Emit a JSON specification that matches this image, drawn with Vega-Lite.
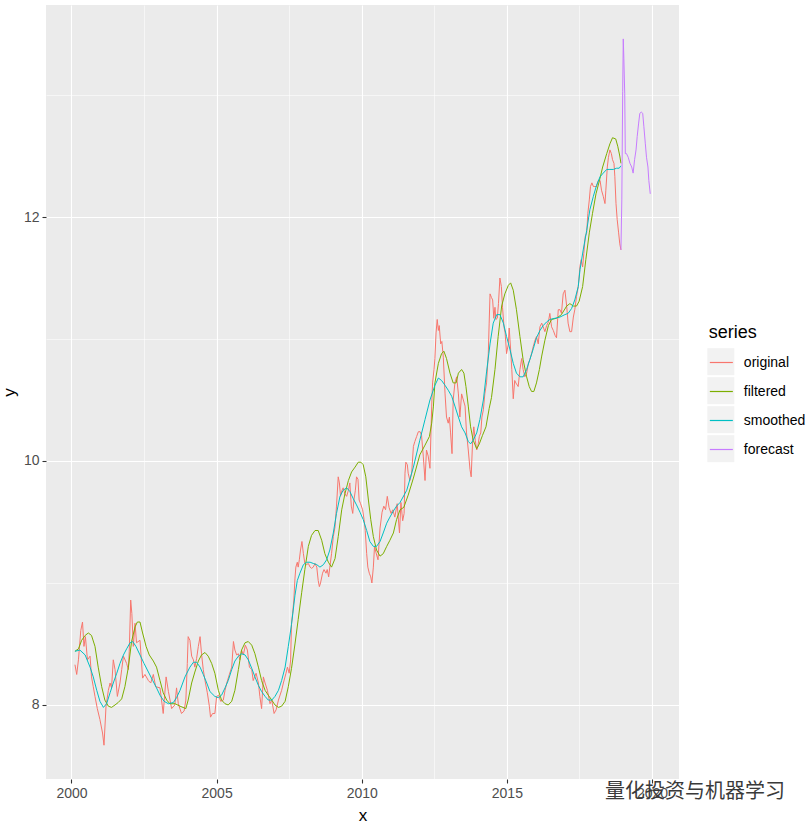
{
"$schema": "https://vega.github.io/schema/vega-lite/v6.json",
"width": 633, "height": 774,
"autosize": {"type": "none"},
"padding": {"left": 46, "top": 5, "right": 133, "bottom": 45},
"background": "white",
"title": {"text": "量化投资与机器学习", "orient": "bottom", "anchor": "end", "frame": "group", "font": "Noto Sans CJK SC", "fontSize": 20, "fontWeight": "normal", "color": "#3A3A3A", "dx": 106, "dy": -41, "offset": 0},
"config": {
  "view": {"fill": "#EBEBEB", "stroke": null},
  "font": "Liberation Sans",
  "axis": {"domain": false, "gridColor": "#FFFFFF", "tickColor": "#333333", "tickWidth": 1.1, "tickSize": 4, "labelColor": "#4D4D4D", "labelFont": "Liberation Sans", "labelFontSize": 14, "labelPadding": 3, "titleFont": "Liberation Sans", "titleFontSize": 17, "titleFontWeight": "normal", "titleColor": "#000000", "labelOverlap": false, "labelFlush": false}
},
"data": {"values": [
{"series":"original","x":2000.12,"y":8.33},{"series":"original","x":2000.18,"y":8.25},{"series":"original","x":2000.24,"y":8.37},{"series":"original","x":2000.32,"y":8.61},{"series":"original","x":2000.38,"y":8.68},{"series":"original","x":2000.43,"y":8.48},{"series":"original","x":2000.48,"y":8.56},{"series":"original","x":2000.55,"y":8.37},{"series":"original","x":2000.64,"y":8.40},{"series":"original","x":2000.69,"y":8.23},{"series":"original","x":2000.75,"y":8.15},{"series":"original","x":2000.81,"y":8.07},{"series":"original","x":2000.89,"y":7.97},{"series":"original","x":2000.98,"y":7.88},{"series":"original","x":2001.07,"y":7.77},{"series":"original","x":2001.12,"y":7.67},{"series":"original","x":2001.19,"y":7.99},{"series":"original","x":2001.27,"y":8.12},{"series":"original","x":2001.33,"y":8.18},{"series":"original","x":2001.38,"y":8.14},{"series":"original","x":2001.44,"y":8.37},{"series":"original","x":2001.50,"y":8.29},{"series":"original","x":2001.58,"y":8.07},{"series":"original","x":2001.67,"y":8.18},{"series":"original","x":2001.73,"y":8.29},{"series":"original","x":2001.79,"y":8.40},{"series":"original","x":2001.90,"y":8.34},{"series":"original","x":2001.96,"y":8.29},{"series":"original","x":2001.99,"y":8.44},{"series":"original","x":2002.04,"y":8.86},{"series":"original","x":2002.08,"y":8.75},{"series":"original","x":2002.13,"y":8.48},{"series":"original","x":2002.19,"y":8.67},{"series":"original","x":2002.24,"y":8.51},{"series":"original","x":2002.36,"y":8.53},{"series":"original","x":2002.45,"y":8.22},{"series":"original","x":2002.53,"y":8.25},{"series":"original","x":2002.65,"y":8.20},{"series":"original","x":2002.73,"y":8.18},{"series":"original","x":2002.82,"y":8.25},{"series":"original","x":2002.90,"y":8.15},{"series":"original","x":2003.05,"y":8.14},{"series":"original","x":2003.16,"y":7.93},{"series":"original","x":2003.26,"y":8.23},{"series":"original","x":2003.34,"y":8.11},{"series":"original","x":2003.45,"y":7.97},{"series":"original","x":2003.56,"y":8.00},{"series":"original","x":2003.62,"y":8.14},{"series":"original","x":2003.68,"y":8.01},{"series":"original","x":2003.79,"y":7.93},{"series":"original","x":2003.88,"y":7.95},{"series":"original","x":2003.94,"y":8.04},{"series":"original","x":2003.99,"y":8.34},{"series":"original","x":2004.02,"y":8.56},{"series":"original","x":2004.08,"y":8.53},{"series":"original","x":2004.14,"y":8.40},{"series":"original","x":2004.20,"y":8.37},{"series":"original","x":2004.25,"y":8.31},{"series":"original","x":2004.31,"y":8.38},{"series":"original","x":2004.37,"y":8.48},{"series":"original","x":2004.43,"y":8.56},{"series":"original","x":2004.48,"y":8.42},{"series":"original","x":2004.54,"y":8.29},{"series":"original","x":2004.60,"y":8.20},{"series":"original","x":2004.68,"y":8.10},{"series":"original","x":2004.75,"y":7.99},{"series":"original","x":2004.79,"y":7.90},{"series":"original","x":2004.86,"y":7.93},{"series":"original","x":2004.94,"y":7.93},{"series":"original","x":2005.00,"y":8.07},{"series":"original","x":2005.07,"y":8.08},{"series":"original","x":2005.14,"y":8.03},{"series":"original","x":2005.23,"y":8.04},{"series":"original","x":2005.29,"y":8.12},{"series":"original","x":2005.35,"y":8.18},{"series":"original","x":2005.44,"y":8.25},{"series":"original","x":2005.52,"y":8.31},{"series":"original","x":2005.58,"y":8.52},{"series":"original","x":2005.63,"y":8.45},{"series":"original","x":2005.69,"y":8.41},{"series":"original","x":2005.75,"y":8.42},{"series":"original","x":2005.80,"y":8.37},{"series":"original","x":2005.86,"y":8.45},{"series":"original","x":2005.92,"y":8.41},{"series":"original","x":2005.99,"y":8.49},{"series":"original","x":2006.06,"y":8.45},{"series":"original","x":2006.13,"y":8.31},{"series":"original","x":2006.21,"y":8.29},{"series":"original","x":2006.26,"y":8.20},{"series":"original","x":2006.36,"y":8.26},{"series":"original","x":2006.44,"y":8.18},{"series":"original","x":2006.49,"y":8.07},{"series":"original","x":2006.55,"y":7.97},{"series":"original","x":2006.61,"y":8.23},{"series":"original","x":2006.67,"y":8.18},{"series":"original","x":2006.75,"y":8.12},{"series":"original","x":2006.84,"y":8.01},{"series":"original","x":2006.90,"y":8.04},{"series":"original","x":2006.98,"y":7.93},{"series":"original","x":2007.05,"y":7.96},{"series":"original","x":2007.13,"y":8.04},{"series":"original","x":2007.24,"y":8.12},{"series":"original","x":2007.30,"y":8.18},{"series":"original","x":2007.39,"y":8.26},{"series":"original","x":2007.44,"y":8.31},{"series":"original","x":2007.50,"y":8.26},{"series":"original","x":2007.55,"y":8.37},{"series":"original","x":2007.58,"y":8.67},{"series":"original","x":2007.62,"y":8.75},{"series":"original","x":2007.66,"y":8.86},{"series":"original","x":2007.70,"y":9.04},{"series":"original","x":2007.73,"y":9.13},{"series":"original","x":2007.78,"y":9.17},{"series":"original","x":2007.81,"y":9.13},{"series":"original","x":2007.85,"y":9.19},{"series":"original","x":2007.89,"y":9.27},{"series":"original","x":2007.94,"y":9.34},{"series":"original","x":2007.99,"y":9.24},{"series":"original","x":2008.04,"y":9.16},{"series":"original","x":2008.10,"y":9.15},{"series":"original","x":2008.16,"y":9.16},{"series":"original","x":2008.22,"y":9.13},{"series":"original","x":2008.27,"y":9.12},{"series":"original","x":2008.33,"y":9.13},{"series":"original","x":2008.39,"y":9.16},{"series":"original","x":2008.45,"y":9.13},{"series":"original","x":2008.50,"y":9.02},{"series":"original","x":2008.54,"y":8.97},{"series":"original","x":2008.58,"y":9.00},{"series":"original","x":2008.65,"y":9.08},{"series":"original","x":2008.70,"y":9.11},{"series":"original","x":2008.77,"y":9.08},{"series":"original","x":2008.81,"y":9.11},{"series":"original","x":2008.86,"y":9.05},{"series":"original","x":2008.90,"y":9.13},{"series":"original","x":2008.96,"y":9.24},{"series":"original","x":2009.02,"y":9.38},{"series":"original","x":2009.08,"y":9.46},{"series":"original","x":2009.13,"y":9.63},{"series":"original","x":2009.19,"y":9.87},{"series":"original","x":2009.23,"y":9.82},{"series":"original","x":2009.27,"y":9.71},{"series":"original","x":2009.32,"y":9.76},{"series":"original","x":2009.36,"y":9.78},{"series":"original","x":2009.42,"y":9.73},{"series":"original","x":2009.48,"y":9.71},{"series":"original","x":2009.54,"y":9.76},{"series":"original","x":2009.59,"y":9.82},{"series":"original","x":2009.64,"y":9.63},{"series":"original","x":2009.69,"y":9.57},{"series":"original","x":2009.73,"y":9.68},{"series":"original","x":2009.78,"y":9.76},{"series":"original","x":2009.82,"y":9.87},{"series":"original","x":2009.87,"y":9.85},{"series":"original","x":2009.91,"y":9.68},{"series":"original","x":2009.96,"y":9.65},{"series":"original","x":2010.03,"y":9.60},{"series":"original","x":2010.08,"y":9.52},{"series":"original","x":2010.12,"y":9.43},{"series":"original","x":2010.17,"y":9.24},{"series":"original","x":2010.21,"y":9.13},{"series":"original","x":2010.26,"y":9.08},{"series":"original","x":2010.31,"y":9.05},{"series":"original","x":2010.35,"y":9.00},{"series":"original","x":2010.40,"y":9.13},{"series":"original","x":2010.44,"y":9.30},{"series":"original","x":2010.49,"y":9.25},{"series":"original","x":2010.56,"y":9.19},{"series":"original","x":2010.63,"y":9.45},{"series":"original","x":2010.70,"y":9.58},{"series":"original","x":2010.76,"y":9.63},{"series":"original","x":2010.82,"y":9.60},{"series":"original","x":2010.88,"y":9.71},{"series":"original","x":2010.94,"y":9.62},{"series":"original","x":2011.01,"y":9.57},{"series":"original","x":2011.07,"y":9.60},{"series":"original","x":2011.14,"y":9.54},{"series":"original","x":2011.22,"y":9.65},{"series":"original","x":2011.30,"y":9.41},{"series":"original","x":2011.35,"y":9.66},{"series":"original","x":2011.41,"y":9.51},{"series":"original","x":2011.46,"y":9.57},{"series":"original","x":2011.49,"y":9.90},{"series":"original","x":2011.52,"y":9.99},{"series":"original","x":2011.57,"y":9.97},{"series":"original","x":2011.60,"y":9.90},{"series":"original","x":2011.66,"y":9.84},{"series":"original","x":2011.72,"y":9.90},{"series":"original","x":2011.78,"y":10.12},{"series":"original","x":2011.83,"y":10.16},{"series":"original","x":2011.89,"y":10.20},{"series":"original","x":2011.95,"y":10.24},{"series":"original","x":2012.01,"y":10.24},{"series":"original","x":2012.06,"y":10.21},{"series":"original","x":2012.12,"y":10.04},{"series":"original","x":2012.18,"y":9.84},{"series":"original","x":2012.23,"y":10.09},{"series":"original","x":2012.29,"y":10.04},{"series":"original","x":2012.35,"y":9.94},{"series":"original","x":2012.41,"y":10.45},{"series":"original","x":2012.44,"y":10.64},{"series":"original","x":2012.49,"y":10.75},{"series":"original","x":2012.52,"y":10.84},{"series":"original","x":2012.56,"y":11.05},{"series":"original","x":2012.60,"y":11.16},{"series":"original","x":2012.64,"y":11.07},{"series":"original","x":2012.67,"y":11.11},{"series":"original","x":2012.72,"y":10.96},{"series":"original","x":2012.76,"y":10.98},{"series":"original","x":2012.81,"y":10.85},{"series":"original","x":2012.87,"y":10.55},{"series":"original","x":2012.92,"y":10.36},{"series":"original","x":2012.98,"y":10.31},{"series":"original","x":2013.02,"y":10.36},{"series":"original","x":2013.06,"y":10.23},{"series":"original","x":2013.11,"y":10.06},{"series":"original","x":2013.15,"y":10.50},{"series":"original","x":2013.21,"y":10.64},{"series":"original","x":2013.27,"y":10.69},{"series":"original","x":2013.33,"y":10.55},{"series":"original","x":2013.38,"y":10.36},{"series":"original","x":2013.44,"y":10.55},{"series":"original","x":2013.50,"y":10.50},{"series":"original","x":2013.56,"y":10.45},{"series":"original","x":2013.61,"y":10.23},{"series":"original","x":2013.67,"y":10.09},{"series":"original","x":2013.73,"y":9.93},{"series":"original","x":2013.77,"y":9.87},{"series":"original","x":2013.82,"y":10.17},{"series":"original","x":2013.86,"y":10.28},{"series":"original","x":2013.91,"y":10.17},{"series":"original","x":2013.96,"y":10.09},{"series":"original","x":2014.00,"y":10.12},{"series":"original","x":2014.05,"y":10.20},{"series":"original","x":2014.10,"y":10.23},{"series":"original","x":2014.14,"y":10.36},{"series":"original","x":2014.19,"y":10.42},{"series":"original","x":2014.24,"y":10.55},{"series":"original","x":2014.30,"y":10.64},{"series":"original","x":2014.36,"y":10.88},{"series":"original","x":2014.39,"y":11.13},{"series":"original","x":2014.42,"y":11.37},{"series":"original","x":2014.47,"y":11.34},{"series":"original","x":2014.51,"y":11.32},{"series":"original","x":2014.55,"y":11.17},{"series":"original","x":2014.59,"y":11.26},{"series":"original","x":2014.62,"y":11.16},{"series":"original","x":2014.67,"y":11.17},{"series":"original","x":2014.71,"y":11.29},{"series":"original","x":2014.76,"y":11.50},{"series":"original","x":2014.81,"y":11.43},{"series":"original","x":2014.85,"y":11.26},{"series":"original","x":2014.90,"y":11.10},{"series":"original","x":2014.94,"y":11.05},{"series":"original","x":2014.99,"y":10.88},{"series":"original","x":2015.05,"y":10.96},{"series":"original","x":2015.08,"y":11.09},{"series":"original","x":2015.13,"y":10.91},{"series":"original","x":2015.17,"y":10.75},{"series":"original","x":2015.22,"y":10.51},{"series":"original","x":2015.27,"y":10.66},{"series":"original","x":2015.31,"y":10.64},{"series":"original","x":2015.39,"y":10.61},{"series":"original","x":2015.45,"y":10.75},{"series":"original","x":2015.51,"y":10.84},{"series":"original","x":2015.56,"y":10.75},{"series":"original","x":2015.62,"y":10.69},{"series":"original","x":2015.68,"y":10.72},{"series":"original","x":2015.74,"y":10.80},{"series":"original","x":2015.79,"y":10.83},{"series":"original","x":2015.85,"y":10.88},{"series":"original","x":2015.91,"y":10.94},{"series":"original","x":2015.97,"y":10.99},{"series":"original","x":2016.02,"y":11.02},{"series":"original","x":2016.08,"y":10.96},{"series":"original","x":2016.14,"y":11.10},{"series":"original","x":2016.20,"y":11.13},{"series":"original","x":2016.25,"y":11.10},{"series":"original","x":2016.31,"y":11.06},{"series":"original","x":2016.37,"y":11.11},{"series":"original","x":2016.43,"y":11.14},{"series":"original","x":2016.48,"y":11.21},{"series":"original","x":2016.54,"y":11.10},{"series":"original","x":2016.60,"y":11.07},{"series":"original","x":2016.66,"y":11.03},{"series":"original","x":2016.71,"y":11.01},{"series":"original","x":2016.77,"y":11.24},{"series":"original","x":2016.83,"y":11.24},{"series":"original","x":2016.88,"y":11.21},{"series":"original","x":2016.94,"y":11.37},{"series":"original","x":2017.00,"y":11.40},{"series":"original","x":2017.06,"y":11.27},{"series":"original","x":2017.11,"y":11.13},{"series":"original","x":2017.17,"y":11.06},{"series":"original","x":2017.23,"y":11.06},{"series":"original","x":2017.29,"y":11.18},{"series":"original","x":2017.34,"y":11.24},{"series":"original","x":2017.40,"y":11.35},{"series":"original","x":2017.46,"y":11.43},{"series":"original","x":2017.52,"y":11.60},{"series":"original","x":2017.56,"y":11.65},{"series":"original","x":2017.61,"y":11.59},{"series":"original","x":2017.65,"y":11.70},{"series":"original","x":2017.70,"y":11.84},{"series":"original","x":2017.75,"y":11.87},{"series":"original","x":2017.79,"y":12.03},{"series":"original","x":2017.84,"y":12.14},{"series":"original","x":2017.88,"y":12.25},{"series":"original","x":2017.93,"y":12.28},{"series":"original","x":2017.98,"y":12.25},{"series":"original","x":2018.03,"y":12.25},{"series":"original","x":2018.09,"y":12.25},{"series":"original","x":2018.15,"y":12.30},{"series":"original","x":2018.21,"y":12.30},{"series":"original","x":2018.26,"y":12.22},{"series":"original","x":2018.32,"y":12.17},{"series":"original","x":2018.38,"y":12.11},{"series":"original","x":2018.41,"y":12.22},{"series":"original","x":2018.46,"y":12.41},{"series":"original","x":2018.50,"y":12.49},{"series":"original","x":2018.55,"y":12.55},{"series":"original","x":2018.60,"y":12.52},{"series":"original","x":2018.64,"y":12.47},{"series":"original","x":2018.69,"y":12.44},{"series":"original","x":2018.72,"y":12.33},{"series":"original","x":2018.76,"y":12.11},{"series":"original","x":2018.80,"y":11.98},{"series":"original","x":2018.85,"y":11.87},{"series":"original","x":2018.89,"y":11.78},{"series":"original","x":2018.93,"y":11.73},
{"series":"filtered","x":2000.12,"y":8.44},{"series":"filtered","x":2000.24,"y":8.46},{"series":"filtered","x":2000.35,"y":8.53},{"series":"filtered","x":2000.47,"y":8.57},{"series":"filtered","x":2000.58,"y":8.59},{"series":"filtered","x":2000.69,"y":8.57},{"series":"filtered","x":2000.81,"y":8.48},{"series":"filtered","x":2000.92,"y":8.31},{"series":"filtered","x":2001.04,"y":8.15},{"series":"filtered","x":2001.15,"y":8.04},{"series":"filtered","x":2001.27,"y":7.99},{"series":"filtered","x":2001.38,"y":7.98},{"series":"filtered","x":2001.50,"y":8.00},{"series":"filtered","x":2001.61,"y":8.02},{"series":"filtered","x":2001.73,"y":8.05},{"series":"filtered","x":2001.84,"y":8.15},{"series":"filtered","x":2001.96,"y":8.31},{"series":"filtered","x":2002.07,"y":8.52},{"series":"filtered","x":2002.19,"y":8.64},{"series":"filtered","x":2002.27,"y":8.68},{"series":"filtered","x":2002.36,"y":8.68},{"series":"filtered","x":2002.45,"y":8.59},{"series":"filtered","x":2002.57,"y":8.48},{"series":"filtered","x":2002.68,"y":8.41},{"series":"filtered","x":2002.82,"y":8.36},{"series":"filtered","x":2002.93,"y":8.31},{"series":"filtered","x":2003.05,"y":8.20},{"series":"filtered","x":2003.16,"y":8.10},{"series":"filtered","x":2003.28,"y":8.04},{"series":"filtered","x":2003.39,"y":8.01},{"series":"filtered","x":2003.57,"y":8.01},{"series":"filtered","x":2003.74,"y":7.99},{"series":"filtered","x":2003.94,"y":7.97},{"series":"filtered","x":2004.02,"y":8.04},{"series":"filtered","x":2004.14,"y":8.18},{"series":"filtered","x":2004.25,"y":8.27},{"series":"filtered","x":2004.37,"y":8.36},{"series":"filtered","x":2004.48,"y":8.41},{"series":"filtered","x":2004.60,"y":8.43},{"series":"filtered","x":2004.71,"y":8.40},{"series":"filtered","x":2004.83,"y":8.34},{"series":"filtered","x":2004.94,"y":8.26},{"series":"filtered","x":2005.06,"y":8.12},{"series":"filtered","x":2005.17,"y":8.04},{"series":"filtered","x":2005.29,"y":8.01},{"series":"filtered","x":2005.40,"y":8.00},{"series":"filtered","x":2005.52,"y":8.03},{"series":"filtered","x":2005.63,"y":8.12},{"series":"filtered","x":2005.75,"y":8.29},{"series":"filtered","x":2005.86,"y":8.45},{"series":"filtered","x":2005.98,"y":8.51},{"series":"filtered","x":2006.09,"y":8.52},{"series":"filtered","x":2006.21,"y":8.49},{"series":"filtered","x":2006.32,"y":8.42},{"series":"filtered","x":2006.44,"y":8.31},{"series":"filtered","x":2006.55,"y":8.20},{"series":"filtered","x":2006.67,"y":8.12},{"series":"filtered","x":2006.78,"y":8.08},{"series":"filtered","x":2006.90,"y":8.04},{"series":"filtered","x":2007.01,"y":8.00},{"series":"filtered","x":2007.13,"y":7.98},{"series":"filtered","x":2007.24,"y":7.99},{"series":"filtered","x":2007.36,"y":8.03},{"series":"filtered","x":2007.47,"y":8.15},{"series":"filtered","x":2007.58,"y":8.30},{"series":"filtered","x":2007.70,"y":8.50},{"series":"filtered","x":2007.81,"y":8.70},{"series":"filtered","x":2007.93,"y":8.92},{"series":"filtered","x":2008.04,"y":9.11},{"series":"filtered","x":2008.16,"y":9.30},{"series":"filtered","x":2008.27,"y":9.39},{"series":"filtered","x":2008.39,"y":9.43},{"series":"filtered","x":2008.50,"y":9.43},{"series":"filtered","x":2008.62,"y":9.35},{"series":"filtered","x":2008.73,"y":9.24},{"series":"filtered","x":2008.85,"y":9.17},{"series":"filtered","x":2008.96,"y":9.13},{"series":"filtered","x":2009.08,"y":9.20},{"series":"filtered","x":2009.19,"y":9.38},{"series":"filtered","x":2009.31,"y":9.60},{"series":"filtered","x":2009.42,"y":9.73},{"series":"filtered","x":2009.54,"y":9.84},{"series":"filtered","x":2009.65,"y":9.91},{"series":"filtered","x":2009.77,"y":9.95},{"series":"filtered","x":2009.88,"y":9.99},{"series":"filtered","x":2009.97,"y":9.99},{"series":"filtered","x":2010.05,"y":9.97},{"series":"filtered","x":2010.14,"y":9.87},{"series":"filtered","x":2010.23,"y":9.68},{"series":"filtered","x":2010.31,"y":9.52},{"series":"filtered","x":2010.40,"y":9.38},{"series":"filtered","x":2010.51,"y":9.27},{"series":"filtered","x":2010.63,"y":9.22},{"series":"filtered","x":2010.74,"y":9.24},{"series":"filtered","x":2010.86,"y":9.30},{"series":"filtered","x":2010.97,"y":9.35},{"series":"filtered","x":2011.09,"y":9.41},{"series":"filtered","x":2011.20,"y":9.52},{"series":"filtered","x":2011.32,"y":9.60},{"series":"filtered","x":2011.45,"y":9.62},{"series":"filtered","x":2011.60,"y":9.72},{"series":"filtered","x":2011.78,"y":9.86},{"series":"filtered","x":2012.00,"y":10.05},{"series":"filtered","x":2012.18,"y":10.13},{"series":"filtered","x":2012.33,"y":10.20},{"series":"filtered","x":2012.41,"y":10.31},{"series":"filtered","x":2012.47,"y":10.45},{"series":"filtered","x":2012.52,"y":10.64},{"series":"filtered","x":2012.64,"y":10.80},{"series":"filtered","x":2012.75,"y":10.88},{"series":"filtered","x":2012.83,"y":10.90},{"series":"filtered","x":2012.92,"y":10.84},{"series":"filtered","x":2013.04,"y":10.72},{"series":"filtered","x":2013.15,"y":10.64},{"series":"filtered","x":2013.25,"y":10.64},{"series":"filtered","x":2013.33,"y":10.72},{"series":"filtered","x":2013.44,"y":10.75},{"series":"filtered","x":2013.52,"y":10.72},{"series":"filtered","x":2013.59,"y":10.61},{"series":"filtered","x":2013.67,"y":10.45},{"series":"filtered","x":2013.75,"y":10.28},{"series":"filtered","x":2013.84,"y":10.17},{"series":"filtered","x":2013.96,"y":10.10},{"series":"filtered","x":2014.05,"y":10.14},{"series":"filtered","x":2014.16,"y":10.21},{"series":"filtered","x":2014.28,"y":10.28},{"series":"filtered","x":2014.39,"y":10.43},{"series":"filtered","x":2014.47,"y":10.52},{"series":"filtered","x":2014.59,"y":10.75},{"series":"filtered","x":2014.70,"y":11.02},{"series":"filtered","x":2014.82,"y":11.27},{"series":"filtered","x":2014.93,"y":11.37},{"series":"filtered","x":2015.05,"y":11.44},{"series":"filtered","x":2015.13,"y":11.46},{"series":"filtered","x":2015.22,"y":11.40},{"series":"filtered","x":2015.33,"y":11.24},{"series":"filtered","x":2015.45,"y":11.02},{"series":"filtered","x":2015.56,"y":10.83},{"series":"filtered","x":2015.68,"y":10.69},{"series":"filtered","x":2015.77,"y":10.61},{"series":"filtered","x":2015.85,"y":10.57},{"series":"filtered","x":2015.93,"y":10.57},{"series":"filtered","x":2016.02,"y":10.64},{"series":"filtered","x":2016.12,"y":10.75},{"series":"filtered","x":2016.20,"y":10.86},{"series":"filtered","x":2016.31,"y":10.99},{"series":"filtered","x":2016.43,"y":11.11},{"series":"filtered","x":2016.54,"y":11.16},{"series":"filtered","x":2016.71,"y":11.17},{"series":"filtered","x":2016.88,"y":11.20},{"series":"filtered","x":2017.06,"y":11.27},{"series":"filtered","x":2017.17,"y":11.29},{"series":"filtered","x":2017.29,"y":11.27},{"series":"filtered","x":2017.40,"y":11.27},{"series":"filtered","x":2017.49,"y":11.31},{"series":"filtered","x":2017.61,"y":11.43},{"series":"filtered","x":2017.72,"y":11.65},{"series":"filtered","x":2017.84,"y":11.87},{"series":"filtered","x":2017.95,"y":12.03},{"series":"filtered","x":2018.07,"y":12.19},{"series":"filtered","x":2018.19,"y":12.30},{"series":"filtered","x":2018.30,"y":12.41},{"series":"filtered","x":2018.44,"y":12.52},{"series":"filtered","x":2018.55,"y":12.60},{"series":"filtered","x":2018.64,"y":12.65},{"series":"filtered","x":2018.75,"y":12.64},{"series":"filtered","x":2018.82,"y":12.58},{"series":"filtered","x":2018.89,"y":12.50},{"series":"filtered","x":2018.93,"y":12.44},
{"series":"smoothed","x":2000.12,"y":8.44},{"series":"smoothed","x":2000.29,"y":8.45},{"series":"smoothed","x":2000.47,"y":8.41},{"series":"smoothed","x":2000.64,"y":8.31},{"series":"smoothed","x":2000.75,"y":8.23},{"series":"smoothed","x":2000.87,"y":8.12},{"series":"smoothed","x":2000.98,"y":8.03},{"series":"smoothed","x":2001.10,"y":7.98},{"series":"smoothed","x":2001.21,"y":8.01},{"series":"smoothed","x":2001.33,"y":8.10},{"series":"smoothed","x":2001.44,"y":8.18},{"series":"smoothed","x":2001.56,"y":8.26},{"series":"smoothed","x":2001.67,"y":8.34},{"series":"smoothed","x":2001.79,"y":8.41},{"series":"smoothed","x":2001.90,"y":8.46},{"series":"smoothed","x":2002.02,"y":8.51},{"series":"smoothed","x":2002.11,"y":8.52},{"series":"smoothed","x":2002.22,"y":8.48},{"series":"smoothed","x":2002.36,"y":8.41},{"series":"smoothed","x":2002.50,"y":8.34},{"series":"smoothed","x":2002.65,"y":8.27},{"series":"smoothed","x":2002.80,"y":8.20},{"series":"smoothed","x":2002.93,"y":8.14},{"series":"smoothed","x":2003.05,"y":8.08},{"series":"smoothed","x":2003.19,"y":8.03},{"series":"smoothed","x":2003.34,"y":8.01},{"series":"smoothed","x":2003.51,"y":8.02},{"series":"smoothed","x":2003.62,"y":8.06},{"series":"smoothed","x":2003.74,"y":8.12},{"series":"smoothed","x":2003.91,"y":8.23},{"series":"smoothed","x":2004.08,"y":8.31},{"series":"smoothed","x":2004.20,"y":8.35},{"series":"smoothed","x":2004.31,"y":8.35},{"series":"smoothed","x":2004.43,"y":8.31},{"series":"smoothed","x":2004.54,"y":8.25},{"series":"smoothed","x":2004.66,"y":8.18},{"series":"smoothed","x":2004.77,"y":8.11},{"series":"smoothed","x":2004.94,"y":8.07},{"series":"smoothed","x":2005.06,"y":8.06},{"series":"smoothed","x":2005.17,"y":8.08},{"series":"smoothed","x":2005.29,"y":8.14},{"series":"smoothed","x":2005.40,"y":8.20},{"series":"smoothed","x":2005.52,"y":8.29},{"series":"smoothed","x":2005.63,"y":8.36},{"series":"smoothed","x":2005.75,"y":8.40},{"series":"smoothed","x":2005.86,"y":8.42},{"series":"smoothed","x":2005.98,"y":8.41},{"series":"smoothed","x":2006.09,"y":8.37},{"series":"smoothed","x":2006.21,"y":8.30},{"series":"smoothed","x":2006.32,"y":8.23},{"series":"smoothed","x":2006.44,"y":8.16},{"series":"smoothed","x":2006.55,"y":8.11},{"series":"smoothed","x":2006.67,"y":8.07},{"series":"smoothed","x":2006.78,"y":8.04},{"series":"smoothed","x":2006.90,"y":8.04},{"series":"smoothed","x":2007.01,"y":8.07},{"series":"smoothed","x":2007.13,"y":8.12},{"series":"smoothed","x":2007.24,"y":8.20},{"series":"smoothed","x":2007.36,"y":8.31},{"series":"smoothed","x":2007.47,"y":8.48},{"series":"smoothed","x":2007.58,"y":8.66},{"series":"smoothed","x":2007.70,"y":8.90},{"series":"smoothed","x":2007.78,"y":9.02},{"series":"smoothed","x":2007.87,"y":9.08},{"series":"smoothed","x":2007.99,"y":9.15},{"series":"smoothed","x":2008.10,"y":9.17},{"series":"smoothed","x":2008.22,"y":9.17},{"series":"smoothed","x":2008.33,"y":9.16},{"series":"smoothed","x":2008.45,"y":9.15},{"series":"smoothed","x":2008.56,"y":9.13},{"series":"smoothed","x":2008.68,"y":9.15},{"series":"smoothed","x":2008.79,"y":9.19},{"series":"smoothed","x":2008.90,"y":9.27},{"series":"smoothed","x":2009.02,"y":9.41},{"series":"smoothed","x":2009.13,"y":9.57},{"series":"smoothed","x":2009.25,"y":9.71},{"series":"smoothed","x":2009.36,"y":9.76},{"series":"smoothed","x":2009.48,"y":9.78},{"series":"smoothed","x":2009.59,"y":9.75},{"series":"smoothed","x":2009.71,"y":9.69},{"series":"smoothed","x":2009.82,"y":9.64},{"series":"smoothed","x":2009.94,"y":9.58},{"series":"smoothed","x":2010.05,"y":9.52},{"series":"smoothed","x":2010.17,"y":9.43},{"series":"smoothed","x":2010.28,"y":9.34},{"series":"smoothed","x":2010.40,"y":9.30},{"series":"smoothed","x":2010.51,"y":9.30},{"series":"smoothed","x":2010.63,"y":9.34},{"series":"smoothed","x":2010.74,"y":9.41},{"series":"smoothed","x":2010.86,"y":9.49},{"series":"smoothed","x":2010.97,"y":9.54},{"series":"smoothed","x":2011.09,"y":9.59},{"series":"smoothed","x":2011.20,"y":9.63},{"series":"smoothed","x":2011.32,"y":9.66},{"series":"smoothed","x":2011.55,"y":9.76},{"series":"smoothed","x":2011.78,"y":9.95},{"series":"smoothed","x":2012.00,"y":10.17},{"series":"smoothed","x":2012.18,"y":10.34},{"series":"smoothed","x":2012.35,"y":10.50},{"series":"smoothed","x":2012.52,"y":10.62},{"series":"smoothed","x":2012.64,"y":10.68},{"series":"smoothed","x":2012.75,"y":10.66},{"series":"smoothed","x":2012.87,"y":10.62},{"series":"smoothed","x":2012.98,"y":10.58},{"series":"smoothed","x":2013.10,"y":10.53},{"series":"smoothed","x":2013.21,"y":10.45},{"series":"smoothed","x":2013.33,"y":10.36},{"series":"smoothed","x":2013.44,"y":10.28},{"series":"smoothed","x":2013.56,"y":10.23},{"series":"smoothed","x":2013.67,"y":10.16},{"series":"smoothed","x":2013.75,"y":10.14},{"series":"smoothed","x":2013.84,"y":10.17},{"series":"smoothed","x":2013.96,"y":10.23},{"series":"smoothed","x":2014.07,"y":10.34},{"series":"smoothed","x":2014.19,"y":10.50},{"series":"smoothed","x":2014.30,"y":10.73},{"series":"smoothed","x":2014.42,"y":10.96},{"series":"smoothed","x":2014.53,"y":11.13},{"series":"smoothed","x":2014.65,"y":11.20},{"series":"smoothed","x":2014.76,"y":11.20},{"series":"smoothed","x":2014.88,"y":11.13},{"series":"smoothed","x":2014.99,"y":11.02},{"series":"smoothed","x":2015.11,"y":10.91},{"series":"smoothed","x":2015.22,"y":10.80},{"series":"smoothed","x":2015.33,"y":10.72},{"series":"smoothed","x":2015.45,"y":10.69},{"series":"smoothed","x":2015.56,"y":10.69},{"series":"smoothed","x":2015.68,"y":10.75},{"series":"smoothed","x":2015.79,"y":10.83},{"series":"smoothed","x":2015.91,"y":10.92},{"series":"smoothed","x":2016.02,"y":11.01},{"series":"smoothed","x":2016.14,"y":11.07},{"series":"smoothed","x":2016.25,"y":11.11},{"series":"smoothed","x":2016.37,"y":11.14},{"series":"smoothed","x":2016.48,"y":11.16},{"series":"smoothed","x":2016.66,"y":11.17},{"series":"smoothed","x":2016.83,"y":11.18},{"series":"smoothed","x":2017.00,"y":11.20},{"series":"smoothed","x":2017.11,"y":11.21},{"series":"smoothed","x":2017.23,"y":11.25},{"series":"smoothed","x":2017.34,"y":11.32},{"series":"smoothed","x":2017.46,"y":11.43},{"series":"smoothed","x":2017.52,"y":11.57},{"series":"smoothed","x":2017.63,"y":11.73},{"series":"smoothed","x":2017.75,"y":11.89},{"series":"smoothed","x":2017.86,"y":12.06},{"series":"smoothed","x":2017.98,"y":12.17},{"series":"smoothed","x":2018.09,"y":12.26},{"series":"smoothed","x":2018.21,"y":12.33},{"series":"smoothed","x":2018.32,"y":12.36},{"series":"smoothed","x":2018.44,"y":12.39},{"series":"smoothed","x":2018.55,"y":12.39},{"series":"smoothed","x":2018.67,"y":12.39},{"series":"smoothed","x":2018.78,"y":12.40},{"series":"smoothed","x":2018.87,"y":12.40},{"series":"smoothed","x":2018.93,"y":12.42},
{"series":"forecast","x":2018.93,"y":11.73},{"series":"forecast","x":2018.96,"y":12.14},{"series":"forecast","x":2018.99,"y":13.03},{"series":"forecast","x":2019.01,"y":13.46},{"series":"forecast","x":2019.03,"y":13.30},{"series":"forecast","x":2019.06,"y":13.01},{"series":"forecast","x":2019.08,"y":12.52},{"series":"forecast","x":2019.12,"y":12.52},{"series":"forecast","x":2019.18,"y":12.49},{"series":"forecast","x":2019.24,"y":12.44},{"series":"forecast","x":2019.30,"y":12.41},{"series":"forecast","x":2019.35,"y":12.36},{"series":"forecast","x":2019.40,"y":12.47},{"series":"forecast","x":2019.45,"y":12.55},{"series":"forecast","x":2019.49,"y":12.66},{"series":"forecast","x":2019.54,"y":12.77},{"series":"forecast","x":2019.58,"y":12.85},{"series":"forecast","x":2019.63,"y":12.86},{"series":"forecast","x":2019.68,"y":12.85},{"series":"forecast","x":2019.72,"y":12.74},{"series":"forecast","x":2019.77,"y":12.60},{"series":"forecast","x":2019.81,"y":12.49},{"series":"forecast","x":2019.86,"y":12.41},{"series":"forecast","x":2019.89,"y":12.30},{"series":"forecast","x":2019.94,"y":12.19}
]},
"encoding": {
  "x": {"field": "x", "type": "quantitative", "title": "x",
        "scale": {"domain": [1999.122, 2020.93], "nice": false, "zero": false},
        "axis": {"values": [2000, 2002.5, 2005, 2007.5, 2010, 2012.5, 2015, 2017.5, 2020],
                 "labelExpr": "datum.value % 5 == 0 ? format(datum.value, 'd') : ''",
                 "gridWidth": {"condition": {"test": "datum.value % 5 == 0", "value": 1.1}, "value": 0.55},
                 "tickOpacity": {"condition": {"test": "datum.value % 5 == 0", "value": 1}, "value": 0},
                 "titleBaseline": "middle", "titleY": 36}},
  "y": {"field": "y", "type": "quantitative", "title": "y",
        "scale": {"domain": [7.393, 13.738], "nice": false, "zero": false},
        "axis": {"values": [8, 9, 10, 11, 12, 13],
                 "labelExpr": "datum.value % 2 == 0 ? format(datum.value, 'd') : ''",
                 "gridWidth": {"condition": {"test": "datum.value % 2 == 0", "value": 1.1}, "value": 0.55},
                 "tickOpacity": {"condition": {"test": "datum.value % 2 == 0", "value": 1}, "value": 0},
                 "titleBaseline": "middle", "titleAlign": "center", "titleAngle": 270, "titleX": -37, "titleY": 387}}
},
"layer": [
  {"mark": {"type": "point", "shape": "square", "filled": true, "opacity": 0},
   "encoding": {"color": {"field": "series", "type": "nominal",
     "scale": {"range": ["#F2F2F2", "#F2F2F2", "#F2F2F2", "#F2F2F2"]},
     "legend": {"orient": "none", "legendX": 661.3, "legendY": 343.2, "title": null, "labelExpr": "''", "labelFontSize": 14, "symbolType": "square", "symbolSize": 729, "symbolStrokeWidth": 0, "symbolOpacity": 1, "rowPadding": 2, "padding": 0}}}},
  {"transform": [{"filter": "datum.series === 'original'"}],
   "mark": {"type": "line", "strokeWidth": 1},
   "encoding": {"stroke": {"field": "series", "type": "nominal",
     "scale": {"domain": ["original", "filtered", "smoothed", "forecast"], "range": ["#F8766D", "#7CAE00", "#00BFC4", "#C77CFF"]},
     "legend": {"orient": "none", "legendX": 662.85, "legendY": 318.5, "title": "series", "titleFontSize": 18, "titleFontWeight": "normal", "titleColor": "#000000", "titleFont": "Liberation Sans", "titlePadding": 8.5, "labelFontSize": 14, "labelColor": "#000000", "labelFont": "Liberation Sans", "labelOffset": 10, "symbolType": "stroke", "symbolSize": 529, "symbolStrokeWidth": 1.2, "rowPadding": 9, "padding": 0}}}},
  {"transform": [{"filter": "datum.series === 'filtered'"}],
   "mark": {"type": "line", "strokeWidth": 1},
   "encoding": {"stroke": {"field": "series", "type": "nominal",
     "scale": {"domain": ["original", "filtered", "smoothed", "forecast"], "range": ["#F8766D", "#7CAE00", "#00BFC4", "#C77CFF"]}}}},
  {"transform": [{"filter": "datum.series === 'smoothed'"}],
   "mark": {"type": "line", "strokeWidth": 1},
   "encoding": {"stroke": {"field": "series", "type": "nominal",
     "scale": {"domain": ["original", "filtered", "smoothed", "forecast"], "range": ["#F8766D", "#7CAE00", "#00BFC4", "#C77CFF"]}}}},
  {"transform": [{"filter": "datum.series === 'forecast'"}],
   "mark": {"type": "line", "strokeWidth": 1},
   "encoding": {"stroke": {"field": "series", "type": "nominal",
     "scale": {"domain": ["original", "filtered", "smoothed", "forecast"], "range": ["#F8766D", "#7CAE00", "#00BFC4", "#C77CFF"]}}}}
]
}
